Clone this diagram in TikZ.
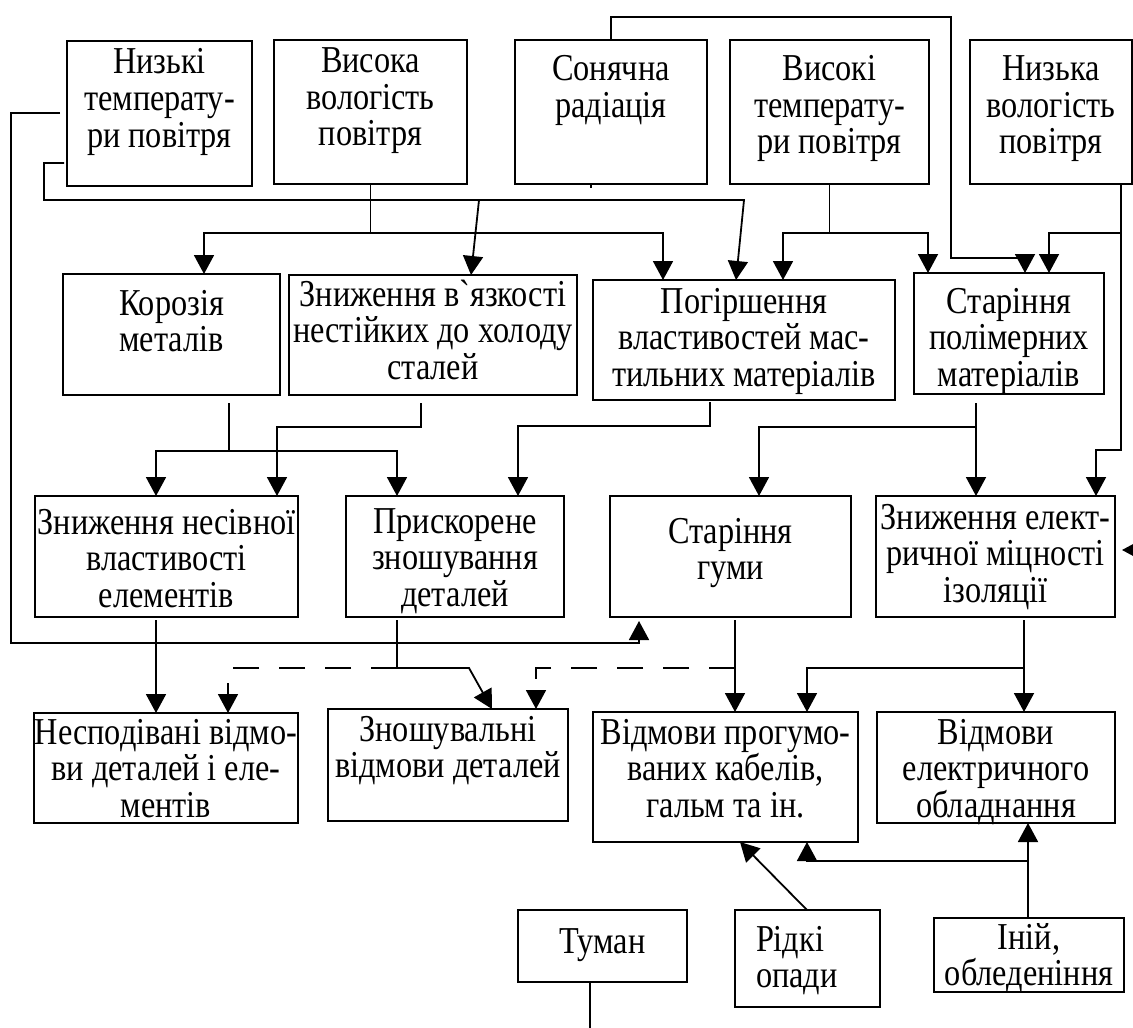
\documentclass[tikz,border=0pt]{standalone}
\usepackage{fontspec}
\setmainfont{Liberation Serif}[FakeStretch=0.85]
\newfontfamily\rawserif{Liberation Serif}[Ligatures=TeXOff,FakeStretch=0.85]
\usetikzlibrary{arrows.meta,calc}
\newdimen\pxu \pxu=0.5pt
\newcommand\oneline[1]{\makebox[0pt]{#1}}
\newcommand\boxtext[4]{\parbox[c][#2\pxu][t]{#1\pxu}{\centering\rule{0pt}{#3\pxu}#4\par}}
\newcommand\boxtextL[5]{\parbox[c][#2\pxu][t]{#1\pxu}{\raggedright\rule{0pt}{#3\pxu}\hspace*{#4\pxu}#5\par}}
\begin{document}
\begin{tikzpicture}[x=0.5pt,y=-0.5pt,
  bx/.style={draw, line width=1pt, inner sep=0pt, outer sep=0pt, anchor=north west,
     font=\fontsize{19pt}{18.25pt}\selectfont},
  ln/.style={line width=0.9pt},
  arr/.style={ln, -{Triangle[length=9.5pt,width=10pt]}},
  dsh/.style={dash pattern=on 13pt off 10pt}]
\useasboundingbox (0,0) rectangle (1133,1027);
\fill[white] (0,0) rectangle (1133,1027);

% row 1
\node[bx] (n1) at (67,41) {\boxtext{185}{145}{33}{\oneline{Низькі}\\\oneline{температу-}\\\oneline{ри повітря}}};
\node[bx] (n2) at (274,40) {\boxtext{193}{144}{33}{\oneline{Висока}\\\oneline{вологість}\\\oneline{повітря}}};
\node[bx] (n3) at (515,40) {\boxtext{192}{144}{41}{\oneline{Сонячна}\\\oneline{радіація}}};
\node[bx] (n4) at (730,40) {\boxtext{199}{144}{41}{\oneline{Високі}\\\oneline{температу-}\\\oneline{ри повітря}}};
\node[bx] (n5) at (970,40) {\boxtext{162}{144}{41}{\oneline{Низька}\\\oneline{вологість}\\\oneline{повітря}}};

% row 2
\node[bx] (r2a) at (63,274) {\boxtext{217}{121}{41}{\oneline{Корозія}\\\oneline{металів}}};
\node[bx] (r2b) at (289,275) {\boxtext{288}{120}{31}{\oneline{Зниження в{\rawserif`}язкості}\\\oneline{нестійких до холоду}\\\oneline{сталей}}};
\node[bx] (r2c) at (593,280) {\boxtext{302}{120}{33}{\oneline{Погіршення}\\\oneline{властивостей мас-}\\\oneline{тильних матеріалів}}};
\node[bx] (r2d) at (914,273) {\boxtext{190}{121}{40}{\oneline{Старіння}\\\oneline{полімерних}\\\oneline{матеріалів}}};

% row 3
\node[bx] (r3a) at (35,496) {\boxtext{263}{121}{38}{\oneline{Зниження несівної}\\\oneline{властивості}\\\oneline{елементів}}};
\node[bx] (r3b) at (346,496) {\boxtext{218}{121}{37}{\oneline{Прискорене}\\\oneline{зношування}\\\oneline{деталей}}};
\node[bx] (r3c) at (610,496) {\boxtext{241}{121}{47}{\oneline{Старіння}\\\oneline{гуми}}};
\node[bx] (r3d) at (876,496) {\boxtext{239}{121}{33}{\oneline{Зниження елект-}\\\oneline{ричної міцності}\\\oneline{ізоляції}}};

% row 4
\node[bx] (r4a) at (34,713) {\boxtext{264}{110}{31}{\oneline{Несподівані відмо-}\\\oneline{ви деталей і еле-}\\\oneline{ментів}}};
\node[bx] (r4b) at (328,709) {\boxtext{240}{112}{32}{\oneline{Зношувальні}\\\oneline{відмови деталей}}};
\node[bx] (r4c) at (593,712) {\boxtext{265}{130}{32}{\oneline{Відмови прогумо-}\\\oneline{ваних кабелів,}\\\oneline{гальм та ін.}}};
\node[bx] (r4d) at (877,712) {\boxtext{238}{111}{32}{\oneline{Відмови}\\\oneline{електричного}\\\oneline{обладнання}}};

% row 5
\node[bx] (r5a) at (518,910) {\boxtext{169}{72}{43}{\oneline{Туман}}};
\node[bx] (r5b) at (735,910) {\boxtextL{145}{97}{41}{21}{Рідкі\\\hspace*{21\pxu}опади}};
\node[bx] (r5c) at (934,918) {\boxtext{190}{74}{31}{\oneline{Іній,}\\\oneline{обледеніння}}};

% stubs / junctions
\coordinate (s1) at ($(n1.west |- 0,113)+(-7,0)$);
\coordinate (s2) at ($(n1.west |- 0,163)+(-3,0)$);

% low temperature
\draw[arr] (s1) -- (11,113) -- (11,643) -- (639,643) -- ($(r3c.south -| 639,0)+(0,4)$);
\draw[arr] (s2) -- (44,163) -- (44,200) -- (744,200) -- (736,0 |- r2c.north);
\draw[arr] (479,200) -- (471,0 |- r2b.north);

% high humidity
\draw[arr] (n2.south) |- (204,233) -- (204,0 |- r2a.north);
\draw[arr] (n2.south |- 0,233) -| (663,0 |- r2c.north);

% solar radiation
\draw[arr] (n3.north) -- (n3.north |- 0,17) -- (951,17) -- (951,258) -- (1025,258) -- (1025,0 |- r2d.north);
\draw[ln] (591,0 |- n3.south) -- ++(0,4);

% high temperature
\draw[arr] (n4.south) |- (783,233) -- (783,0 |- r2c.north);
\draw[arr] (n4.south |- 0,233) -| (928,0 |- r2d.north);

% low humidity
\draw[arr] (1121,0 |- n5.south) -- (1121,450) -| (1096,0 |- r3d.north);
\draw[arr] (1121,233) -| (1049,0 |- r2d.north);

% row 2 -> row 3
\draw[arr] ($(r2a.south -| 229,0)+(0,8)$) -- (229,451) -| (156,0 |- r3a.north);
\draw[arr] (229,451) -| (397,0 |- r3b.north);
\draw[arr] ($(r2b.south -| 421,0)+(0,8)$) -- (421,427) -| (277,0 |- r3a.north);
\draw[arr] ($(r2c.south -| 710,0)+(0,2)$) -- (710,426) -| (518,0 |- r3b.north);
\draw[arr] ($(r2d.south -| 976,0)+(0,9)$) -- (976,0 |- r3d.north);
\draw[arr] (976,427) -| (759,0 |- r3c.north);

% row 3 -> row 4
\draw[arr] ($(r3a.south -| 156,0)+(0,3)$) -- (156,0 |- r4a.north);
\draw[arr] ($(r3b.south -| 397,0)+(0,3)$) -- (397,668) -- (469,668) -- (492,0 |- r4b.north);
\draw[arr,dsh] (397,668) -- (228,668) -- (228,0 |- r4a.north);
\draw[arr] ($(r3c.south -| 735,0)+(0,3)$) -- (735,0 |- r4c.north);
\draw[arr,dsh] (735,668) -- (536,668) -- (536,0 |- r4b.north);
\draw[arr] ($(r3d.south -| 1024,0)+(0,3)$) -- (1024,0 |- r4d.north);
\draw[arr] (1024,668) -| (807,0 |- r4c.north);

% row 5
\draw[ln] (590,0 |- r5a.south) -- (590,1030);
\draw[arr] (807,0 |- r5b.north) -- (740,0 |- r4c.south);
\draw[arr] (1028,0 |- r5c.north) -- (1028,0 |- r4d.south);
\draw[arr] (1028,861) -| (807,0 |- r4c.south);

% stray arrowhead at right edge
\coordinate (stray) at ($(r3d.east |- 0,550)+(7,0)$);
\draw[arr] (1170,550) -- (stray);
\end{tikzpicture}
\end{document}
